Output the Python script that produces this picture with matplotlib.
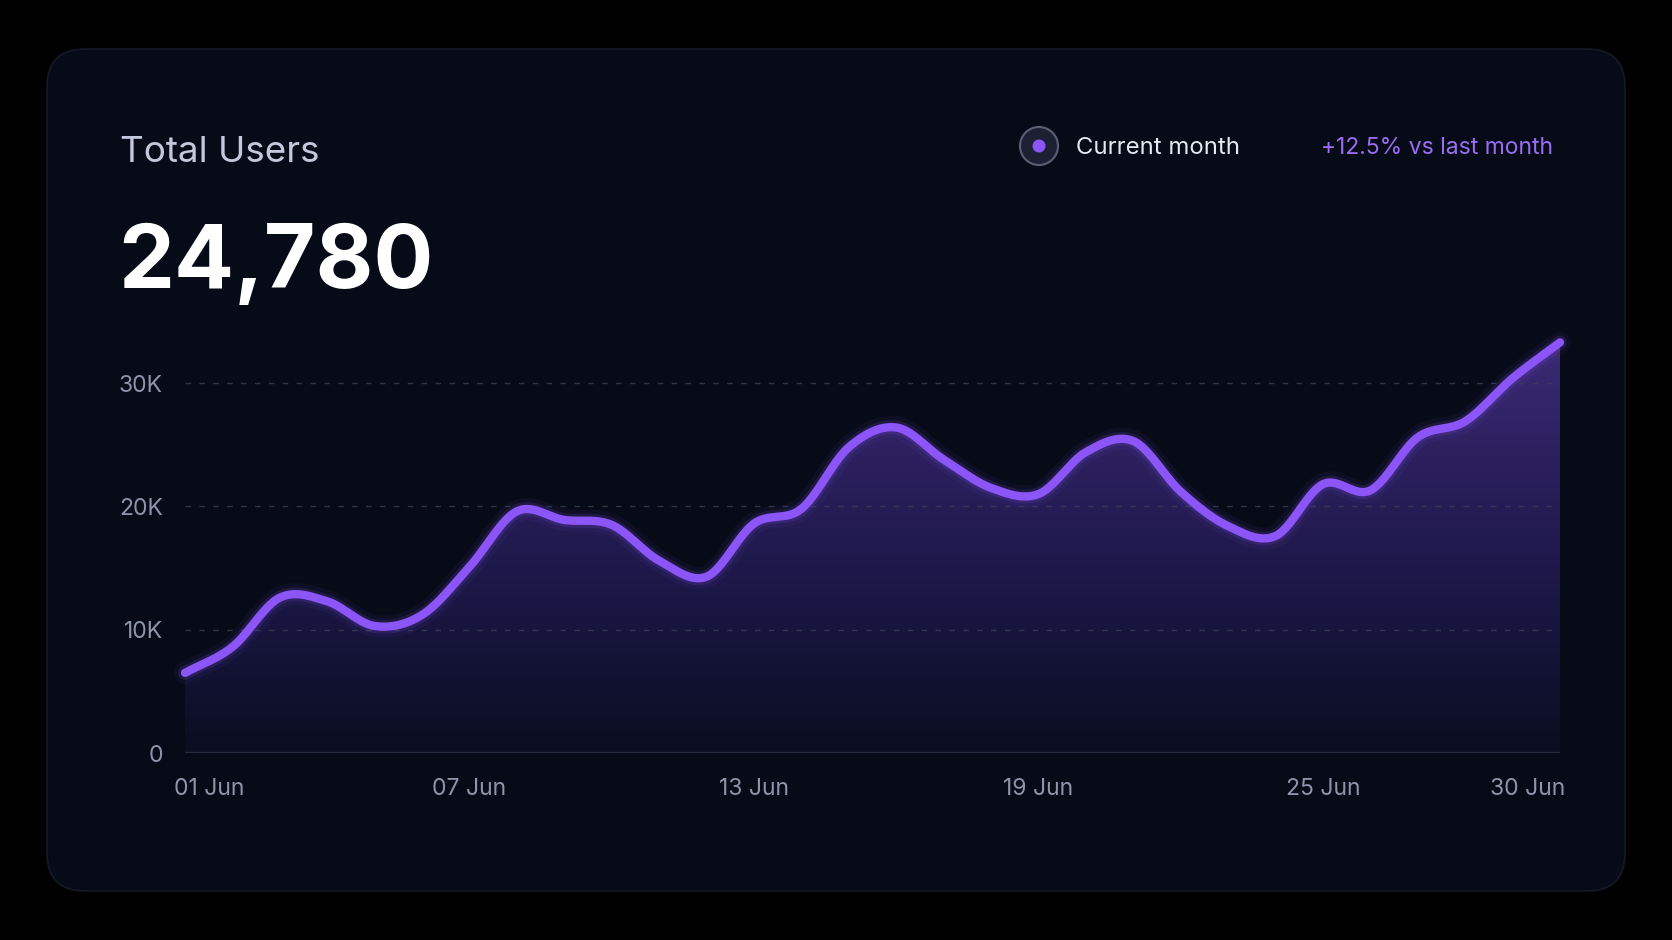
import numpy as np
import matplotlib.pyplot as plt
import matplotlib.transforms as mtransforms
from matplotlib.patches import FancyBboxPatch, Circle
from matplotlib.colors import LinearSegmentedColormap

plt.rcParams['font.family'] = ['Inter', 'DejaVu Sans']

# data
days = np.arange(1, 31)
users = [6500, 8600, 12600, 12300, 10300, 11200, 15100, 19600, 18900, 18500,
         15600, 14300, 18600, 19800, 24800, 26400, 23800, 21500, 21000, 24400,
         25300, 21200, 18400, 17600, 21800, 21300, 25600, 26900, 30400, 33300]
tick_days = [1, 7, 13, 19, 25, 30]
tick_labels = ["01 Jun", "07 Jun", "13 Jun", "19 Jun", "25 Jun", "30 Jun"]
y_ticks = [0, 10000, 20000, 30000]
y_labels = ["0", "10K", "20K", "30K"]

purple = "#8b55f7"
card_bg = "#070b17"


def smooth(x, y, n=24):
    # cubic hermite (catmull-rom style tangents) just for drawing the curve
    x = np.asarray(x, float)
    y = np.asarray(y, float)
    m = np.gradient(y, x)
    xs, ys = [], []
    for i in range(len(x) - 1):
        t = np.linspace(0, 1, n, endpoint=False)
        h = x[i + 1] - x[i]
        h00 = 2 * t**3 - 3 * t**2 + 1
        h10 = t**3 - 2 * t**2 + t
        h01 = -2 * t**3 + 3 * t**2
        h11 = t**3 - t**2
        xs.append(x[i] + t * h)
        ys.append(h00 * y[i] + h10 * h * m[i] + h01 * y[i + 1] + h11 * h * m[i + 1])
    xs.append([x[-1]])
    ys.append([y[-1]])
    return np.concatenate(xs), np.concatenate(ys)


W, H = 1672, 940
fig = plt.figure(figsize=(W / 100, H / 100), dpi=100)
fig.patch.set_facecolor("black")

# background layer in pixel coords
bg = fig.add_axes([0, 0, 1, 1])
bg.set_xlim(0, W)
bg.set_ylim(H, 0)
bg.axis("off")
card = FancyBboxPatch((47, 49), 1578, 842, boxstyle="round,pad=0,rounding_size=38",
                      fc=card_bg, ec="#151a27", lw=1.2)
bg.add_patch(card)

bg.text(120, 162, "Total Users", fontsize=26.5, color="#c3c9dc", va="baseline")
bg.text(118, 288, "24,780", fontsize=64, fontweight="bold", color="white", va="baseline")

bg.add_patch(Circle((1039, 146), 19, fc="#1d2032", ec="#5a5f73", lw=1.5))
bg.add_patch(Circle((1039, 146), 6.5, fc=purple, ec="none"))
bg.text(1076, 154, "Current month", fontsize=17.2, color="#e6e8ef", va="baseline")
bg.text(1321, 154, "+12.5% vs last month", fontsize=16.5, color="#9b6cf5", va="baseline")

# chart
ax = fig.add_axes([185 / W, (H - 753) / H, 1375 / W, 425.4 / H])
ax.set_facecolor("none")
ax.set_xlim(1, 30)
ax.set_ylim(0, 34500)

for v in y_ticks[1:]:
    ax.axhline(v, color="#3a3f55", lw=1, alpha=0.8, linestyle=(0, (4, 6)), zorder=2)
ax.axhline(0, color="#262c3d", lw=1.6, zorder=3)

xs, ys = smooth(days, users)
poly = ax.fill_between(xs, ys, 0, color="none")
cmap = LinearSegmentedColormap.from_list("fill", ["#0a0e20", "#191642", "#2a1f5c", "#3d2b78"])
grad = np.linspace(0, 1, 256).reshape(-1, 1)
im = ax.imshow(grad, extent=[1, 30, 0, 34500], origin="lower", aspect="auto",
               cmap=cmap, zorder=1)
im.set_clip_path(poly.get_paths()[0], transform=ax.transData)

ax.plot(xs, ys, color=purple, lw=16, alpha=0.06, solid_capstyle="round", zorder=4, clip_on=False)
ax.plot(xs, ys, color=purple, lw=10, alpha=0.14, solid_capstyle="round", zorder=4, clip_on=False)
ax.plot(xs, ys, color=purple, lw=6, solid_capstyle="round", zorder=5, clip_on=False)

ax.set_yticks(y_ticks)
ax.set_yticklabels(y_labels)
ax.set_xticks(tick_days)
ax.set_xticklabels(tick_labels)
ax.tick_params(axis="y", length=0, pad=16, labelsize=16.5, labelcolor="#8e94aa")
ax.tick_params(axis="x", length=0, pad=18, labelsize=16.5, labelcolor="#8e94aa")
xl = ax.get_xticklabels()
xl[0].set_ha("left")
xl[0].set_transform(xl[0].get_transform()
                    + mtransforms.ScaledTranslation(-0.11, 0, fig.dpi_scale_trans))
xl[-1].set_ha("right")
xl[-1].set_transform(xl[-1].get_transform()
                     + mtransforms.ScaledTranslation(0.05, 0, fig.dpi_scale_trans))
for s in ax.spines.values():
    s.set_visible(False)

fig.savefig("out.png", dpi=100, facecolor="black")
